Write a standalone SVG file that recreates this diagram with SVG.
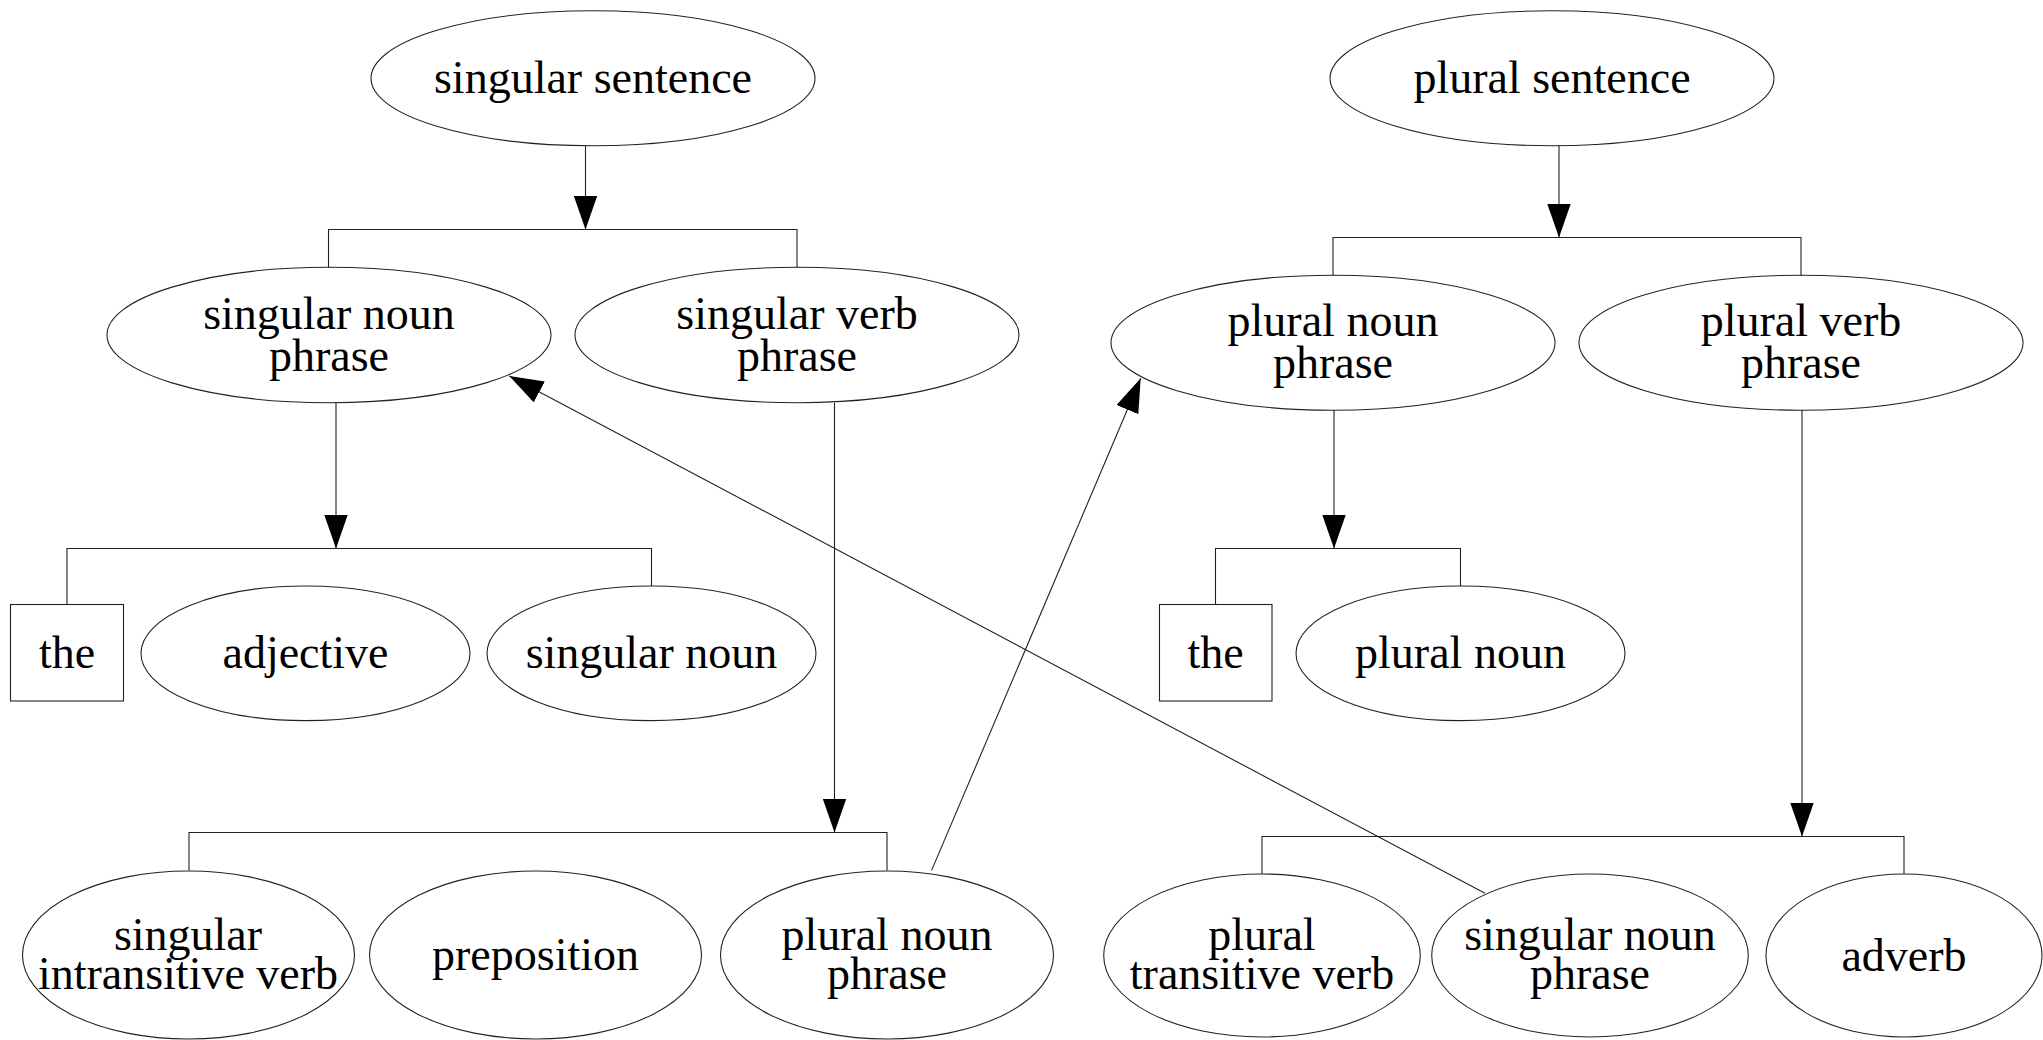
<svg xmlns="http://www.w3.org/2000/svg" width="2043" height="1040" viewBox="0 0 2043 1040">
<style>
.n ellipse, .n rect { fill: none; stroke: #222; stroke-width: 1.1; }
text { font-family: "Liberation Serif", "Times New Roman", serif; font-size: 46px; fill: #000; text-anchor: middle; }
.c line, .c polyline { fill: none; stroke: #222; stroke-width: 1.1; }
</style>
<defs>
<marker id="ah" markerUnits="userSpaceOnUse" markerWidth="34" markerHeight="24" viewBox="0 0 33 23" refX="33" refY="11.5" orient="auto">
<path d="M0,0 L33,11.5 L0,23 z" fill="#000"/>
</marker>
</defs>
<rect width="2043" height="1040" fill="#fff"/>

<g class="c" id="connectors">
<line x1="585.5" y1="146" x2="585.5" y2="229.5" marker-end="url(#ah)"/>
<polyline points="328.5,267.5 328.5,229.5 797,229.5 797,267.5"/>
<line x1="1559" y1="146" x2="1559" y2="237.5" marker-end="url(#ah)"/>
<polyline points="1333,275.5 1333,237.5 1801,237.5 1801,275.5"/>
<line x1="336" y1="402.7" x2="336" y2="548.5" marker-end="url(#ah)"/>
<polyline points="67,604.5 67,548.5 651.5,548.5 651.5,586"/>
<line x1="834.5" y1="402.7" x2="834.5" y2="832.5" marker-end="url(#ah)"/>
<polyline points="189,870.5 189,832.5 887,832.5 887,870.5"/>
<line x1="1334" y1="410" x2="1334" y2="548.5" marker-end="url(#ah)"/>
<polyline points="1215.5,604.5 1215.5,548.5 1460.5,548.5 1460.5,586"/>
<line x1="1802" y1="410" x2="1802" y2="836.5" marker-end="url(#ah)"/>
<polyline points="1262,874 1262,836.5 1904,836.5 1904,874"/>
<line x1="931.6" y1="870.4" x2="1140.7" y2="378.3" marker-end="url(#ah)"/>
<line x1="1485" y1="893.3" x2="509.3" y2="376" marker-end="url(#ah)"/>
</g>

<g class="n" id="singular_sentence"><ellipse cx="593" cy="78.3" rx="222" ry="67.5"/><text x="593" y="93">singular sentence</text></g>
<g class="n" id="plural_sentence"><ellipse cx="1552" cy="78.3" rx="222" ry="67.5"/><text x="1552" y="93">plural sentence</text></g>

<g class="n" id="singular_noun_phrase"><ellipse cx="329" cy="335" rx="222" ry="67.7"/><text x="329" y="328.5">singular noun</text><text x="329" y="370.5">phrase</text></g>
<g class="n" id="singular_verb_phrase"><ellipse cx="797" cy="335" rx="222" ry="67.7"/><text x="797" y="328.5">singular verb</text><text x="797" y="370.5">phrase</text></g>
<g class="n" id="plural_noun_phrase"><ellipse cx="1333" cy="342.7" rx="222" ry="67.5"/><text x="1333" y="336">plural noun</text><text x="1333" y="378">phrase</text></g>
<g class="n" id="plural_verb_phrase"><ellipse cx="1801" cy="342.7" rx="222" ry="67.5"/><text x="1801" y="336">plural verb</text><text x="1801" y="378">phrase</text></g>

<g class="n" id="the_1"><rect x="10.5" y="604.5" width="113" height="96.5"/><text x="67" y="668">the</text></g>
<g class="n" id="adjective"><ellipse cx="305.5" cy="653.3" rx="164.5" ry="67.3"/><text x="305.5" y="668">adjective</text></g>
<g class="n" id="singular_noun"><ellipse cx="651.5" cy="653.3" rx="164.5" ry="67.3"/><text x="651.5" y="668">singular noun</text></g>
<g class="n" id="the_2"><rect x="1159.5" y="604.5" width="112.5" height="96.5"/><text x="1215.5" y="668">the</text></g>
<g class="n" id="plural_noun"><ellipse cx="1460.5" cy="653.3" rx="164.5" ry="67.3"/><text x="1460.5" y="668">plural noun</text></g>

<g class="n" id="singular_intransitive_verb"><ellipse cx="188.5" cy="955" rx="166" ry="84"/><text x="188" y="949.5">singular</text><text x="188" y="988.5">intransitive verb</text></g>
<g class="n" id="preposition"><ellipse cx="535.5" cy="955" rx="166" ry="84"/><text x="535.5" y="970">preposition</text></g>
<g class="n" id="plural_noun_phrase_2"><ellipse cx="887" cy="955" rx="166.5" ry="84"/><text x="887" y="949.5">plural noun</text><text x="887" y="988.5">phrase</text></g>
<g class="n" id="plural_transitive_verb"><ellipse cx="1262" cy="955.5" rx="158.3" ry="81.5"/><text x="1262" y="950">plural</text><text x="1262" y="989">transitive verb</text></g>
<g class="n" id="singular_noun_phrase_2"><ellipse cx="1590" cy="955.5" rx="158.3" ry="81.5"/><text x="1590" y="950">singular noun</text><text x="1590" y="989">phrase</text></g>
<g class="n" id="adverb"><ellipse cx="1904" cy="955.5" rx="138" ry="81.5"/><text x="1904" y="970.5">adverb</text></g>
</svg>
